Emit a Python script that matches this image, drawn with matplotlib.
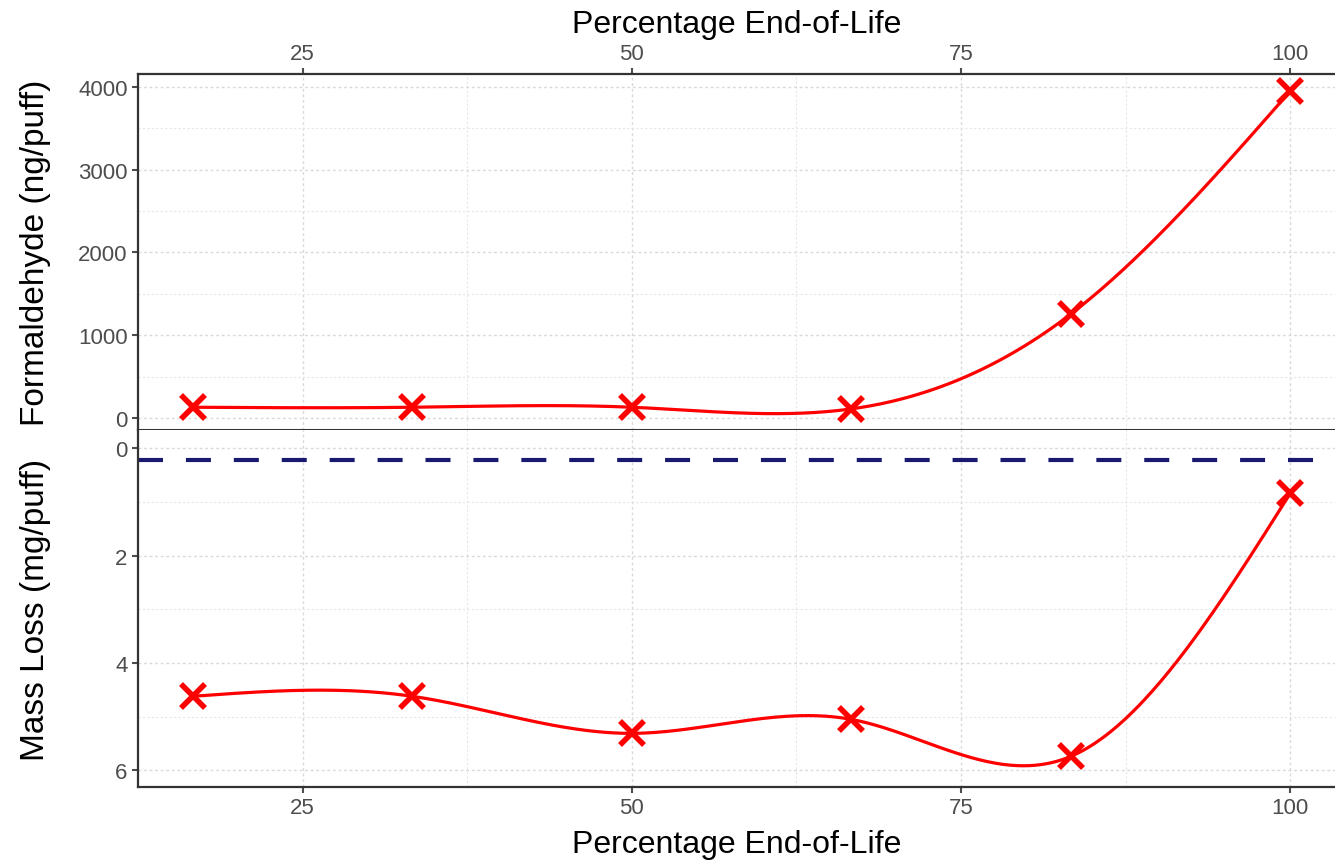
#!/usr/bin/env python3
"""Formaldehyde and mass loss versus percentage end-of-life."""

import matplotlib.pyplot as plt
import numpy as np

plt.rcParams["font.family"] = ["Liberation Sans", "DejaVu Sans"]

# data
eol_pct = [16.67, 33.33, 50.0, 66.67, 83.33, 100.0]
formaldehyde = [130, 130, 130, 110, 1255, 3950]
mass_loss = [4.62, 4.62, 5.31, 5.05, 5.74, 0.84]
mass_ref = 0.22

RED = "#ff0000"
NAVY = "#191970"
TICK_GREY = "#4d4d4d"
SPINE = "#333333"


def natural_spline(x, y, n=400):
    """Natural cubic spline through points, for the smooth curve."""
    x = np.asarray(x, float)
    y = np.asarray(y, float)
    k = len(x)
    h = np.diff(x)
    A = np.zeros((k, k))
    b = np.zeros(k)
    A[0, 0] = A[-1, -1] = 1
    for i in range(1, k - 1):
        A[i, i - 1] = h[i - 1]
        A[i, i] = 2 * (h[i - 1] + h[i])
        A[i, i + 1] = h[i]
        b[i] = 3 * ((y[i + 1] - y[i]) / h[i] - (y[i] - y[i - 1]) / h[i - 1])
    c = np.linalg.solve(A, b)
    xs = np.linspace(x[0], x[-1], n)
    ys = np.empty_like(xs)
    for j, xv in enumerate(xs):
        i = min(np.searchsorted(x, xv, side="right") - 1, k - 2)
        dx = xv - x[i]
        bi = (y[i + 1] - y[i]) / h[i] - h[i] * (2 * c[i] + c[i + 1]) / 3
        di = (c[i + 1] - c[i]) / (3 * h[i])
        ys[j] = y[i] + bi * dx + c[i] * dx ** 2 + di * dx ** 3
    return xs, ys


def style_axes(ax):
    ax.set_facecolor("white")
    ax.set_xlim(12.55, 103.4)
    ax.set_xticks([25, 50, 75, 100])
    ax.set_xticks([12.5, 37.5, 62.5, 87.5], minor=True)
    ax.grid(True, which="major", color="#d9d9d9", linestyle=(0, (2, 2)), linewidth=1.0)
    ax.grid(True, which="minor", color="#e6e6e6", linestyle=(0, (2, 2)), linewidth=0.8)
    ax.tick_params(which="major", colors=TICK_GREY, labelsize=16, length=4, width=1.5)
    ax.tick_params(which="minor", length=0)
    for s in ax.spines.values():
        s.set_color(SPINE)
        s.set_linewidth(1.6)
    ax.spines["right"].set_visible(False)
    ax.set_axisbelow(True)


def place_labels(ax, xlabel_y):
    ax.xaxis.label.set_va("center")
    ax.xaxis.set_label_coords(0.5, xlabel_y)
    ax.yaxis.label.set_ha("center")
    ax.yaxis.label.set_va("center")
    ax.yaxis.set_label_coords(-0.086, 0.5)


fig = plt.figure(figsize=(13.35, 8.62), dpi=100)
ax1 = fig.add_axes([0.1034, 0.5, 0.8966, 0.413])
ax2 = fig.add_axes([0.1034, 0.0858, 0.8966, 0.4142])

# top panel: formaldehyde
style_axes(ax1)
ax1.spines["bottom"].set_linewidth(2.2)
xs, ys = natural_spline(eol_pct, formaldehyde)
ax1.plot(xs, ys, color=RED, linewidth=2.3)
ax1.plot(eol_pct, formaldehyde, linestyle="none", marker="x", color=RED,
         markersize=17, markeredgewidth=4)
ax1.set_ylim(-145, 4157)
ax1.set_yticks([0, 1000, 2000, 3000, 4000])
ax1.set_yticks([500, 1500, 2500, 3500], minor=True)
ax1.xaxis.tick_top()
ax1.xaxis.set_label_position("top")
ax1.set_xlabel("Percentage End-of-Life", fontsize=23)
ax1.set_ylabel("Formaldehyde (ng/puff)", fontsize=24)
place_labels(ax1, 1.14)

# bottom panel: mass loss (inverted)
style_axes(ax2)
ax2.axhline(mass_ref, color=NAVY, linewidth=3, linestyle=(0, (6, 5.5)))
xs, ys = natural_spline(eol_pct, mass_loss)
ax2.plot(xs, ys, color=RED, linewidth=2.3)
ax2.plot(eol_pct, mass_loss, linestyle="none", marker="x", color=RED,
         markersize=17, markeredgewidth=4)
ax2.set_ylim(6.31, -0.34)
ax2.set_yticks([0, 2, 4, 6])
ax2.set_yticks([1, 3, 5], minor=True)
ax2.spines["top"].set_visible(False)
ax2.set_xlabel("Percentage End-of-Life", fontsize=23)
ax2.set_ylabel("Mass Loss (mg/puff)", fontsize=24)
place_labels(ax2, -0.16)

fig.savefig("out.png", dpi=100)
